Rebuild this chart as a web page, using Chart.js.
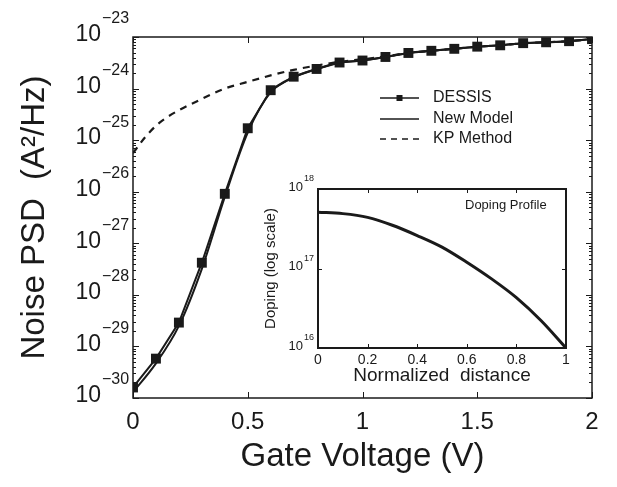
<!DOCTYPE html>
<html>
<head>
<meta charset="utf-8">
<script src="https://cdn.jsdelivr.net/npm/chart.js@4.4.0/dist/chart.umd.min.js"></script>
<style>
  body { margin: 0; background: #fff; }
  #wrap { position: relative; width: 617px; height: 487px; }
  #mainChart { position: absolute; left: 0; top: 0; }
  #insetChart { position: absolute; left: 255px; top: 170px; }
</style>
</head>
<body>
<div id="wrap">
  <canvas id="mainChart" width="617" height="487"></canvas>
  <canvas id="insetChart" width="320" height="220"></canvas>
</div>
<script>
// Main plot: noise PSD vs gate voltage
const gateVoltage = [0, 0.1, 0.2, 0.3, 0.4, 0.5, 0.6, 0.7, 0.8, 0.9, 1.0,
                     1.1, 1.2, 1.3, 1.4, 1.5, 1.6, 1.7, 1.8, 1.9, 2.0];
const dessis   = [1.6e-30, 5.8e-30, 2.9e-29, 4.2e-28, 9.1e-27, 1.7e-25, 9.3e-25, 1.7e-24, 2.4e-24, 3.2e-24, 3.5e-24,
                  4.1e-24, 4.9e-24, 5.4e-24, 5.9e-24, 6.5e-24, 6.9e-24, 7.6e-24, 7.9e-24, 8.3e-24, 9.1e-24];
const newModel = [1.3e-30, 4.7e-30, 2.5e-29, 3.2e-28, 7.9e-27, 1.4e-25, 8.5e-25, 1.66e-24, 2.4e-24, 3.2e-24, 3.5e-24,
                  4.1e-24, 4.9e-24, 5.4e-24, 5.9e-24, 6.5e-24, 6.9e-24, 7.6e-24, 7.9e-24, 8.3e-24, 9.1e-24];
const kpVoltage = [0, 0.05, 0.1, 0.15, 0.2, 0.3, 0.4, 0.5, 0.6, 0.7, 0.8, 0.9, 1.0,
                   1.1, 1.2, 1.3, 1.4, 1.5, 1.6, 1.7, 1.8, 1.9, 2.0];
const kpMethod  = [5.6e-26, 1.1e-25, 1.9e-25, 2.8e-25, 3.8e-25, 6.3e-25, 1.0e-24, 1.35e-24, 1.8e-24, 2.3e-24, 2.8e-24, 3.3e-24, 3.7e-24,
                   4.2e-24, 4.9e-24, 5.4e-24, 5.9e-24, 6.5e-24, 6.9e-24, 7.6e-24, 7.9e-24, 8.3e-24, 9.1e-24];
const mainDecades = [-30, -29, -28, -27, -26, -25, -24, -23];
const mainXTicks = [0, 0.5, 1, 1.5, 2];
const legendLabels = ['DESSIS', 'New Model', 'KP Method'];

// Inset: doping profile
const distance = [0, 0.1, 0.2, 0.3, 0.4, 0.5, 0.6, 0.7, 0.8, 0.9, 1.0];
const doping   = [5.1e17, 4.9e17, 4.4e17, 3.5e17, 2.6e17, 1.86e17, 1.2e17, 7.4e16, 4.3e16, 2.2e16, 1.0e16];
const insetDecades = [16, 17, 18];
const insetXTicks = [0, 0.2, 0.4, 0.6, 0.8, 1];

const FONT = "'Liberation Sans', Arial, Helvetica, sans-serif";
const INK = '#1a1a1a';

const pts = (xs, ys) => xs.map((x, i) => ({ x, y: ys[i] }));
const plainNum = v => String(+v.toFixed(2));

function drawPow(ctx, x, y, exp, big, small, lift) {
    ctx.fillStyle = INK;
    ctx.textBaseline = 'middle';
    ctx.font = `${big}px ${FONT}`;
    ctx.textAlign = 'right';
    ctx.fillText('10', x, y);
    ctx.font = `${small}px ${FONT}`;
    ctx.textAlign = 'left';
    ctx.fillText(exp, x + 1, y - lift);
}

function drawFrame(chart, frameWidth, xTicks, decades, major, minor) {
    const { ctx, chartArea: a, scales: { x, y } } = chart;
    ctx.save();
    ctx.strokeStyle = INK;
    ctx.lineWidth = frameWidth;
    ctx.strokeRect(a.left, a.top, a.right - a.left, a.bottom - a.top);
    ctx.lineWidth = 1;
    ctx.beginPath();
    xTicks.forEach(v => {
        const px = Math.round(x.getPixelForValue(v)) + 0.5;
        ctx.moveTo(px, a.bottom); ctx.lineTo(px, a.bottom - major);
        ctx.moveTo(px, a.top); ctx.lineTo(px, a.top + major);
    });
    decades.forEach((e, i) => {
        const py = Math.round(y.getPixelForValue(Math.pow(10, e))) + 0.5;
        ctx.moveTo(a.left, py); ctx.lineTo(a.left + major, py);
        ctx.moveTo(a.right, py); ctx.lineTo(a.right - major, py);
        if (minor && i < decades.length - 1) {
            for (let m = 2; m <= 9; m++) {
                const pm = Math.round(y.getPixelForValue(m * Math.pow(10, e))) + 0.5;
                ctx.moveTo(a.left, pm); ctx.lineTo(a.left + minor, pm);
                ctx.moveTo(a.right, pm); ctx.lineTo(a.right - minor, pm);
            }
        }
    });
    ctx.stroke();
    ctx.restore();
}

const mainDecor = {
    id: 'mainDecor',
    afterDraw(chart) {
        const { ctx, scales: { y } } = chart;
        drawFrame(chart, 1.5, mainXTicks, mainDecades, 6, 3);

        ctx.save();
        mainDecades.forEach(e => {
            const py = y.getPixelForValue(Math.pow(10, e));
            drawPow(ctx, 101, py - 2, '\u2212' + Math.abs(e), 23, 16, 16);
        });

        // legend
        const lx = 380, lw = 39, tx = 433;
        const rows = [98, 119, 139];
        ctx.strokeStyle = INK;
        ctx.lineWidth = 1.5;
        rows.forEach((ry, i) => {
            ctx.beginPath();
            ctx.setLineDash(i === 2 ? [6, 5] : []);
            ctx.moveTo(lx, ry); ctx.lineTo(lx + lw, ry);
            ctx.stroke();
            if (i === 0) {
                ctx.fillStyle = INK;
                ctx.fillRect(lx + lw / 2 - 3, ry - 3, 6, 6);
            }
            ctx.fillStyle = INK;
            ctx.font = `16px ${FONT}`;
            ctx.textAlign = 'left';
            ctx.textBaseline = 'middle';
            ctx.fillText(legendLabels[i], tx, ry);
        });
        ctx.setLineDash([]);
        ctx.restore();
    }
};

new Chart(document.getElementById('mainChart'), {
    type: 'line',
    data: {
        datasets: [
            {
                label: 'New Model',
                data: pts(gateVoltage, newModel),
                borderColor: INK,
                borderWidth: 2,
                pointRadius: 0,
                cubicInterpolationMode: 'monotone'
            },
            {
                label: 'KP Method',
                data: pts(kpVoltage, kpMethod),
                borderColor: INK,
                borderWidth: 2.2,
                borderDash: [7, 6],
                pointRadius: 0,
                cubicInterpolationMode: 'monotone'
            },
            {
                label: 'DESSIS',
                data: pts(gateVoltage, dessis),
                borderColor: INK,
                backgroundColor: INK,
                borderWidth: 2,
                pointStyle: 'rect',
                pointRadius: 7,
                pointBorderWidth: 0,
                tension: 0
            }
        ]
    },
    options: {
        responsive: false,
        animation: false,
        events: [],
        layout: { padding: { top: 37, right: 25, left: 0, bottom: 0 } },
        plugins: { legend: { display: false }, tooltip: { enabled: false } },
        scales: {
            x: {
                type: 'linear',
                min: 0,
                max: 2,
                afterFit: s => { s.height = 89; },
                afterBuildTicks: s => { s.ticks = mainXTicks.map(v => ({ value: v })); },
                grid: { display: false, drawTicks: false },
                border: { display: false },
                ticks: { color: INK, padding: 10, font: { family: FONT, size: 24 }, callback: plainNum },
                title: {
                    display: true,
                    text: 'Gate Voltage (V)',
                    color: INK,
                    font: { family: FONT, size: 33 },
                    padding: { top: 0, bottom: 10 }
                }
            },
            y: {
                type: 'logarithmic',
                min: 1e-30,
                max: 1e-23,
                afterFit: s => { s.width = 133; },
                grid: { display: false, drawTicks: false },
                border: { display: false },
                ticks: { display: false },
                title: {
                    display: true,
                    text: 'Noise PSD  (A\u00B2/Hz)',
                    color: INK,
                    font: { family: FONT, size: 33 },
                    padding: { top: 15, bottom: 0 }
                }
            }
        }
    },
    plugins: [mainDecor]
});

const insetDecor = {
    id: 'insetDecor',
    afterDraw(chart) {
        const { ctx, scales: { y } } = chart;
        drawFrame(chart, 2, insetXTicks, insetDecades, 4, 0);
        ctx.save();
        insetDecades.forEach(e => {
            const py = y.getPixelForValue(Math.pow(10, e));
            drawPow(ctx, 48, py - 2, String(e), 13, 9, 8);
        });
        ctx.fillStyle = INK;
        ctx.font = `13px ${FONT}`;
        ctx.textAlign = 'left';
        ctx.textBaseline = 'middle';
        ctx.fillText('Doping Profile', 210, 35);
        ctx.restore();
    }
};

new Chart(document.getElementById('insetChart'), {
    type: 'line',
    data: {
        datasets: [{
            label: 'Doping',
            data: pts(distance, doping),
            borderColor: INK,
            borderWidth: 3,
            pointRadius: 0,
            cubicInterpolationMode: 'monotone'
        }]
    },
    options: {
        responsive: false,
        animation: false,
        events: [],
        layout: { padding: { top: 19, right: 9, left: 0, bottom: 0 } },
        plugins: { legend: { display: false }, tooltip: { enabled: false } },
        scales: {
            x: {
                type: 'linear',
                min: 0,
                max: 1,
                afterFit: s => { s.height = 42; },
                afterBuildTicks: s => { s.ticks = insetXTicks.map(v => ({ value: v })); },
                grid: { display: false, drawTicks: false },
                border: { display: false },
                ticks: { color: INK, padding: 4, font: { family: FONT, size: 14 }, callback: plainNum },
                title: {
                    display: true,
                    text: 'Normalized  distance',
                    color: INK,
                    font: { family: FONT, size: 19 },
                    padding: { top: 0, bottom: 3 }
                }
            },
            y: {
                type: 'logarithmic',
                min: 1e16,
                max: 1e18,
                afterFit: s => { s.width = 63; },
                grid: { display: false, drawTicks: false },
                border: { display: false },
                ticks: { display: false },
                title: {
                    display: true,
                    text: 'Doping (log scale)',
                    color: INK,
                    font: { family: FONT, size: 15 },
                    padding: { top: 7, bottom: 0 }
                }
            }
        }
    },
    plugins: [insetDecor]
});
</script>
</body>
</html>
